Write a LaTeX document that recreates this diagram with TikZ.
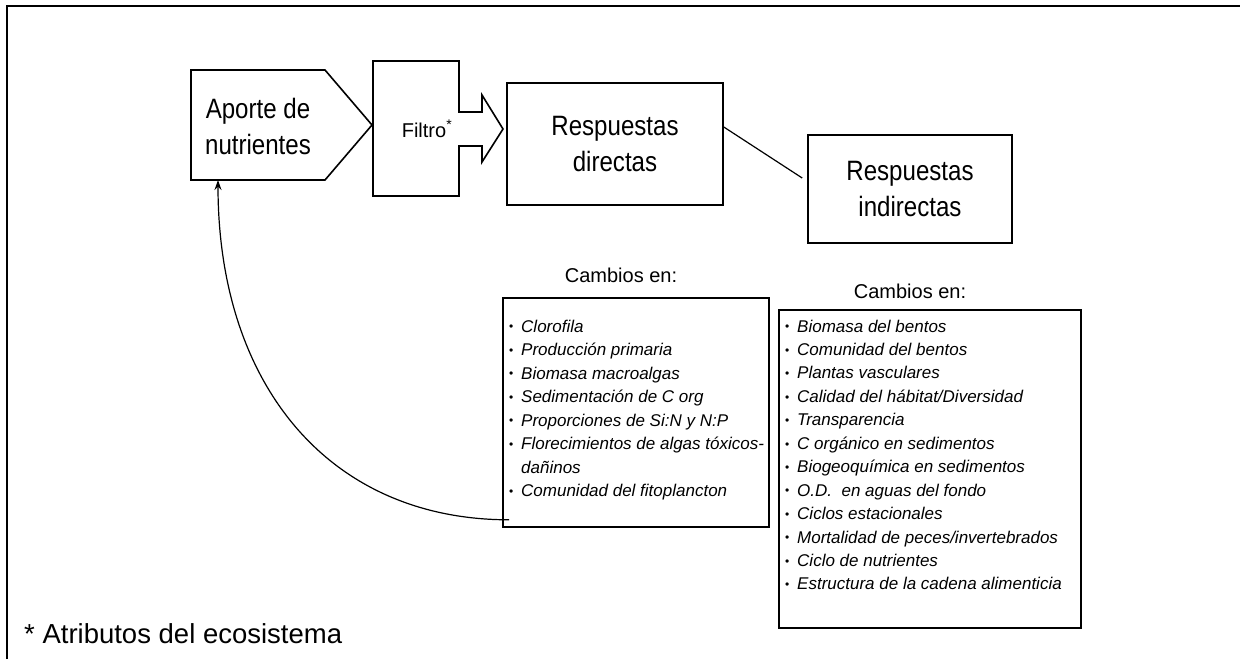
\documentclass[tikz,border=0pt]{standalone}
\usepackage{fontspec}
\setmainfont{Liberation Sans}
\newfontfamily\narrowfont[FakeStretch=0.86]{Liberation Sans}
\usetikzlibrary{arrows.meta,calc}
\newcommand\bul{\makebox[12pt][l]{\raisebox{1.2pt}{\fontsize{12}{12}\selectfont\upshape •}}}
\newcommand\nob{\hspace*{12pt}}
\begin{document}
\begin{tikzpicture}[x=1pt,y=-1pt,
  shapeline/.style={line width=1.6pt, line join=miter},
  box/.style={draw, line width=1.6pt, rectangle, inner sep=0pt},
  big/.style={font=\narrowfont\fontsize{28}{36}\selectfont, align=center},
  item/.style={font=\fontsize{17}{20}\selectfont\itshape, inner sep=0pt},
  lab/.style={font=\fontsize{20}{22}\selectfont, inner sep=0pt},
  conn/.style={line width=1.2pt}]
\useasboundingbox (0,0) rectangle (1240,659);
% frame
\draw[line width=2pt] (7,659) -- (7,6) -- (1240,6);
% Aporte de nutrientes
\draw[shapeline] (191,70) -- (325,70) -- (372,125) -- (325,180) -- (191,180) -- cycle;
\node[big] (aporte) at (258,126) {Aporte de\\nutrientes};
\coordinate (apin) at (218,180);
% Filtro
\draw[shapeline] (373,61) -- (459,61) -- (459,112) -- (482,112) -- (482,95) -- (503,129)
  -- (482,162) -- (482,146) -- (459,146) -- (459,196) -- (373,196) -- cycle;
\node[font=\fontsize{20}{24}\selectfont] (filtro) at (427,129) {Filtro\textsuperscript{*}};
% responses
\node[box, big, minimum width=216, minimum height=122] (dir) at (615,144) {Respuestas\\directas};
\node[box, big, minimum width=204, minimum height=108] (ind) at (910,189) {Respuestas\\indirectas};
\draw[conn] ($(dir.east)+(0,-17)$) -- ($(ind.west)+(-5,-11)$);
% direct changes
\node[lab, anchor=base] (c1) at (621,282) {Cambios en:};
\node[box, minimum width=266, minimum height=229] (b1) at (636,412.5) {};
\foreach \t [count=\i from 0] in {{\bul Clorofila},{\bul Producción primaria},{\bul Biomasa macroalgas},
  {\bul Sedimentación de C org},{\bul Proporciones de Si:N y N:P},{\bul Florecimientos de algas tóxicos-},
  {\nob dañinos},{\bul Comunidad del fitoplancton}}
  \node[item, anchor=base west] (d\i) at (509,{332+23.5*\i}) {\t};
% indirect changes
\node[lab, anchor=base] (c2) at (910,298) {Cambios en:};
\node[box, minimum width=302, minimum height=318] (b2) at (930,469) {};
\foreach \t [count=\i from 0] in {{Biomasa del bentos},{Comunidad del bentos},{Plantas vasculares},
  {Calidad del hábitat/Diversidad},{Transparencia},{C orgánico en sedimentos},{Biogeoquímica en sedimentos},
  {O.D.\ \ en aguas del fondo},{Ciclos estacionales},{Mortalidad de peces/invertebrados},
  {Ciclo de nutrientes},{Estructura de la cadena alimenticia}}
  \node[item, anchor=base west] (e\i) at (785,{332+23.45*\i}) {\bul \t};
% feedback arrow
\coordinate (cs) at ($(b1.south west)+(7,-8)$);
\draw[conn, -{Stealth[length=10pt,width=7pt]}] (cs) .. controls +(-180,0) and +(0,205) .. (apin);
% footnote
\node[font=\fontsize{27.5}{30}\selectfont, anchor=base west, inner sep=0pt] (fn) at (24,643) {* Atributos del ecosistema};
\end{tikzpicture}
\end{document}
